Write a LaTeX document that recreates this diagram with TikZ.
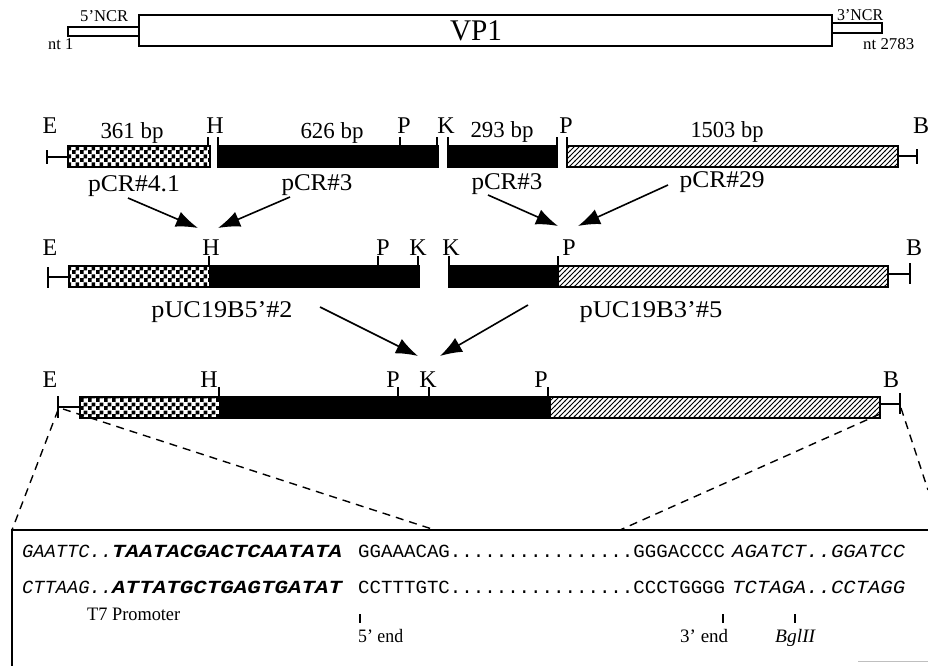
\documentclass[tikz,border=0pt]{standalone}
\usepackage{graphicx}
\usepackage{fontspec}
\setmainfont{Liberation Serif}
\newfontfamily\seqfont{Liberation Mono}
\usetikzlibrary{patterns,arrows.meta}
\pgfdeclarepatternformonly{bigchecker}{\pgfpointorigin}{\pgfqpoint{8pt}{8pt}}{\pgfqpoint{8pt}{8pt}}{%
 \pgfpathrectangle{\pgfpointorigin}{\pgfqpoint{4.1pt}{4.1pt}}%
 \pgfpathrectangle{\pgfqpoint{4pt}{4pt}}{\pgfqpoint{4.1pt}{4.1pt}}%
 \pgfusepath{fill}}
\pgfdeclarepatternformonly{widehatch}{\pgfqpoint{-1pt}{-1pt}}{\pgfqpoint{6pt}{6pt}}{\pgfqpoint{5pt}{5pt}}{%
 \pgfsetlinewidth{1pt}\pgfpathmoveto{\pgfqpoint{-0.5pt}{-0.5pt}}\pgfpathlineto{\pgfqpoint{5.5pt}{5.5pt}}\pgfusepath{stroke}}
\newcommand\tw[2]{\resizebox{#1}{\height}{#2}}
\tikzset{
 barline/.style={draw=black,line width=1.3pt},
 chk/.style={barline,pattern=bigchecker},
 hat/.style={barline,pattern=widehatch},
 blk/.style={barline,fill=black},
 tk/.style={line width=1.3pt},
 site/.style={inner sep=0pt,anchor=base,font=\fontsize{24}{24}\selectfont},
 bp/.style={inner sep=0pt,anchor=base,font=\fontsize{23}{23}\selectfont},
 clone/.style={inner sep=0pt,anchor=base,font=\fontsize{24}{24}\selectfont},
 small/.style={inner sep=0pt,anchor=base west,font=\fontsize{16.5}{16.5}\selectfont},
 seq/.style={inner sep=0pt,anchor=base west,font=\seqfont\fontsize{18.5}{18.5}\selectfont},
 note/.style={inner sep=0pt,anchor=base west,font=\fontsize{19}{19}\selectfont},
 arr/.style={line width=1.6pt,-{Latex[length=22pt,width=16pt]}},
 zoomline/.style={line width=1.4pt,dash pattern=on 8pt off 6pt},
}
\begin{document}
\begin{tikzpicture}[x=1pt,y=-1pt]
\useasboundingbox (0,0) rectangle (928,666);
% ---- VP1 row
\draw[barline,fill=white] (68,27) rectangle (139,36);
\draw[barline,fill=white] (832,23) rectangle (882,33);
\draw[barline,fill=white] (139,15) rectangle (832,46);
\node[inner sep=0pt,anchor=base,font=\fontsize{30}{30}\selectfont] (vp1) at (476,41) {\tw{52pt}{VP1}};
\node[small] (ncr5) at (80,22) {\tw{48pt}{5’NCR}};
\node[small] (ncr3) at (837,21) {\tw{46pt}{3’NCR}};
\node[small] (nt1) at (48,50) {\tw{25pt}{nt 1}};
\node[small] (nt2783) at (863,50) {\tw{51pt}{nt 2783}};
% ---- Row 2 fragments
\draw[tk] (47,150) -- (47,164) (47,157) -- (68,157);
\draw[chk] (68,146) rectangle (210,167);
\draw[blk] (218,146) rectangle (438,167);
\draw[blk] (448,146) rectangle (557,167);
\draw[hat] (567,146) rectangle (898,167);
\draw[tk] (898,156) -- (917,156) (917,149) -- (917,164);
\draw[tk] (208,137) -- (208,146) (218,137) -- (218,146) (400,137) -- (400,146)
 (437,137) -- (437,146) (448,137) -- (448,146) (557,137) -- (557,146) (567,137) -- (567,146);
\node[site] (e2) at (50,133) {E};
\node[site] (h2) at (215,133) {H};
\node[site] (p2a) at (404,133) {P};
\node[site] (k2) at (446,133) {K};
\node[site] (p2b) at (566,133) {P};
\node[site] (b2) at (921,133) {B};
\node[bp] (bp361) at (132,139) {\tw{63pt}{361 bp}};
\node[bp] (bp626) at (332,139) {\tw{63pt}{626 bp}};
\node[bp] (bp293) at (502,138) {\tw{63pt}{293 bp}};
\node[bp] (bp1503) at (727,138) {\tw{73pt}{1503 bp}};
\node[clone] (c41) at (134,191) {\tw{92pt}{pCR\#4.1}};
\node[clone] (c3a) at (317,190) {\tw{71pt}{pCR\#3}};
\node[clone] (c3b) at (507,189) {\tw{71pt}{pCR\#3}};
\node[clone] (c29) at (722,187) {\tw{85pt}{pCR\#29}};
% ---- Row 3
\draw[tk] (48,267) -- (48,288) (48,277) -- (69,277);
\draw[chk] (69,266) rectangle (210,287);
\draw[blk] (210,266) rectangle (419,287);
\draw[blk] (449,266) rectangle (558,287);
\draw[hat] (558,266) rectangle (888,287);
\draw[tk] (888,274) -- (910,274) (910,263) -- (910,284);
\draw[tk] (209,256) -- (209,266) (378,256) -- (378,266) (418,256) -- (418,266)
 (449,256) -- (449,266) (558,256) -- (558,266);
\node[site] (e3) at (50,255) {E};
\node[site] (h3) at (211,255) {H};
\node[site] (p3a) at (383,255) {P};
\node[site] (k3a) at (418,255) {K};
\node[site] (k3b) at (451,255) {K};
\node[site] (p3b) at (569,255) {P};
\node[site] (b3) at (914,255) {B};
\node[clone] (u5) at (222,317) {\tw{141pt}{pUC19B5’\#2}};
\node[clone] (u3) at (651,317) {\tw{143pt}{pUC19B3’\#5}};
% ---- Row 4
\draw[tk] (58,396) -- (58,418) (58,407) -- (80,407);
\draw[chk] (80,397) rectangle (220,418);
\draw[blk] (220,397) rectangle (550,418);
\draw[hat] (550,397) rectangle (880,418);
\draw[tk] (880,404) -- (900,404) (900,393) -- (900,414);
\draw[tk] (219,387) -- (219,397) (398,387) -- (398,397) (429,387) -- (429,397) (548,387) -- (548,397);
\node[site] (e4) at (50,387) {E};
\node[site] (h4) at (209,387) {H};
\node[site] (p4a) at (393,387) {P};
\node[site] (k4) at (428,387) {K};
\node[site] (p4b) at (541,387) {P};
\node[site] (b4) at (891,387) {B};
% ---- arrows
\coordinate (a1s) at (128,198); \coordinate (a1e) at (198,228);
\coordinate (a2s) at (290,197); \coordinate (a2e) at (218,228);
\coordinate (a3s) at (488,195); \coordinate (a3e) at (558,226);
\coordinate (a4s) at (668,185); \coordinate (a4e) at (578,226);
\coordinate (a5s) at (320,307); \coordinate (a5e) at (418,356);
\coordinate (a6s) at (528,305); \coordinate (a6e) at (440,356);
\draw[arr] (a1s) -- (a1e);
\draw[arr] (a2s) -- (a2e);
\draw[arr] (a3s) -- (a3e);
\draw[arr] (a4s) -- (a4e);
\draw[arr] (a5s) -- (a5e);
\draw[arr] (a6s) -- (a6e);
% ---- zoom lines and box
\coordinate (zl1) at (58,410); \coordinate (bl) at (12,530);
\coordinate (zl2) at (63,409); \coordinate (bm1) at (435,530);
\coordinate (zr1) at (880,414); \coordinate (bm2) at (620,530);
\coordinate (zr2) at (901,408); \coordinate (br) at (928,490);
\draw[zoomline] (zl1) -- (bl);
\draw[zoomline] (zl2) -- (bm1);
\draw[zoomline] (zr1) -- (bm2);
\draw[zoomline] (zr2) -- (br);
\coordinate (btr) at (928,530); \coordinate (bbl) at (12,666);
\draw[line width=1.3pt] (btr) -- (bl) -- (bbl);
\coordinate (g1) at (858,661); \coordinate (g2) at (928,661);
\draw[line width=1pt,black!25] (g1) -- (g2);
% ---- sequences
\node[seq] (s1a) at (22,557) {\tw{90pt}{\itshape GAATTC..}};
\node[seq] (s1b) at (112,557) {\tw{230pt}{\bfseries\itshape TAATACGACTCAATATA}};
\node[seq] (s1c) at (358,557) {\tw{367pt}{GGAAACAG................GGGACCCC}};
\node[seq] (s1d) at (732,557) {\tw{173pt}{\itshape AGATCT..GGATCC}};
\node[seq] (s2a) at (22,593) {\tw{90pt}{\itshape CTTAAG..}};
\node[seq] (s2b) at (112,593) {\tw{230pt}{\bfseries\itshape ATTATGCTGAGTGATAT}};
\node[seq] (s2c) at (358,593) {\tw{367pt}{CCTTTGTC................CCCTGGGG}};
\node[seq] (s2d) at (732,593) {\tw{173pt}{\itshape TCTAGA..CCTAGG}};
\draw[tk] (360,614) -- (360,623) (723,614) -- (723,623) (795,614) -- (795,623);
\node[note] (t7) at (87,620) {\tw{93pt}{T7 Promoter}};
\node[note] (end5) at (358,642) {\tw{45pt}{5’ end}};
\node[note] (end3) at (680,642) {\tw{48pt}{3’ end}};
\node[note] (bgl) at (775,642) {\tw{40pt}{\itshape BglII}};
\end{tikzpicture}
\end{document}
